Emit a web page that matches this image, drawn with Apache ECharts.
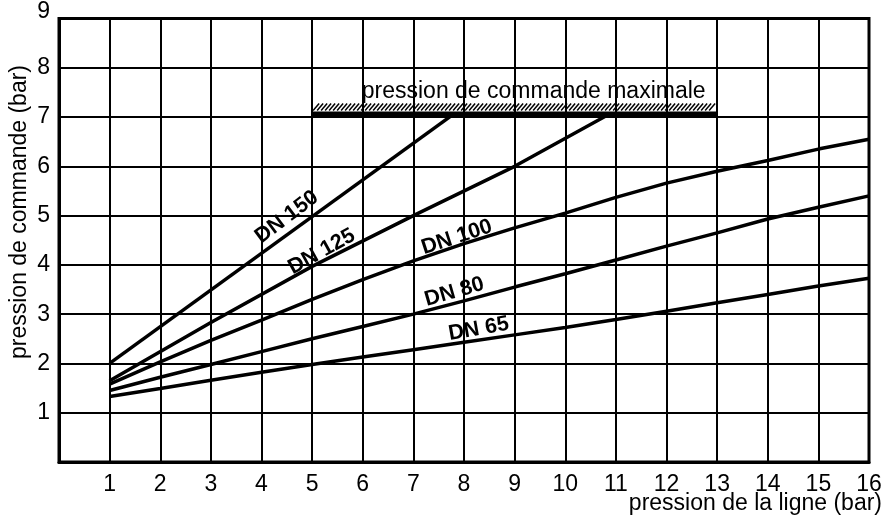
<!DOCTYPE html>
<html><head><meta charset="utf-8">
<script src="https://cdn.jsdelivr.net/npm/echarts@6/dist/echarts.min.js"></script>
<style>html,body{margin:0;padding:0;background:#fff}#c{width:893px;height:519px}</style>
</head><body><div id="c"></div>
<script>
// ---- data ----
const xFull = [1,2,3,4,5,6,7,8,9,10,11,12,13,14,15,16];
const dn150X = [1, 7.78];
const dn150 = [2.0, 7.05];
const dn125X = [1, 3, 5, 7, 9, 10.82];
const dn125 = [1.65, 2.83, 3.97, 5.0, 6.0, 7.03];
const dn100 = [1.58,2.03,2.47,2.88,3.3,3.7,4.08,4.43,4.75,5.05,5.37,5.66,5.9,6.12,6.35,6.55];
const dn80  = [1.45,1.72,1.98,2.24,2.5,2.75,3.0,3.27,3.55,3.82,4.1,4.38,4.65,4.93,5.17,5.40];
const dn65  = [1.33,1.49,1.66,1.82,1.98,2.13,2.28,2.43,2.58,2.73,2.89,3.06,3.23,3.4,3.57,3.73];
const maxCmd = { from: 5, to: 13, value: 7.05, text: 'pression de commande maximale' };
const seriesNames = ['DN 150','DN 125','DN 100','DN 80','DN 65'];
const xName = 'pression de la ligne (bar)';
const yName = 'pression de commande (bar)';

const zip = (xs, ys) => xs.map((x, i) => [x, ys[i]]);
const FONT = "'Liberation Sans', Arial, sans-serif";

const lineSeries = (name, data, coord, rot) => ({
  name, type: 'line', data, symbol: 'none', silent: true,
  lineStyle: { color: '#000', width: 3.5 },
  markPoint: {
    symbol: 'circle', symbolSize: 0, silent: true,
    label: { show: true, position: 'inside', formatter: name, rotate: rot,
      fontWeight: 'bold', fontSize: 21.5, color: '#000', fontFamily: FONT },
    data: [{ coord }]
  }
});

const chart = echarts.init(document.getElementById('c'));
chart.setOption({
  animation: false,
  backgroundColor: '#fff',
  textStyle: { fontFamily: FONT },
  grid: { left: 59, right: 24, top: 18, bottom: 57, show: true, borderColor: '#000', borderWidth: 3 },
  xAxis: {
    type: 'value', min: 0, max: 16, interval: 1,
    axisLine: { lineStyle: { color: '#000', width: 3 } },
    axisTick: { show: false },
    splitLine: { show: true, lineStyle: { color: '#000', width: 2 } },
    axisLabel: { color: '#000', fontSize: 23, margin: 11, fontFamily: FONT,
      formatter: v => v === 0 ? '' : String(v) }
  },
  yAxis: {
    type: 'value', min: 0, max: 9, interval: 1,
    axisLine: { lineStyle: { color: '#000', width: 3 } },
    axisTick: { show: false },
    splitLine: { show: true, lineStyle: { color: '#000', width: 2 } },
    axisLabel: { color: '#000', fontSize: 23, margin: 9, fontFamily: FONT,
      formatter: v => v === 0 ? '' : (v === 9 ? '{top|9}' : String(v)),
      rich: { top: { fontSize: 23, fontFamily: FONT, color: '#000', padding: [0, 0, 14, 0] } } }
  },
  graphic: [
    { type: 'text', x: 20, y: 212, rotation: Math.PI / 2,
      style: { text: yName, font: '23px ' + FONT, fill: '#000', align: 'center', verticalAlign: 'middle' } },
    { type: 'text', x: 882, y: 504,
      style: { text: xName, font: '23px ' + FONT, fill: '#000', align: 'right', verticalAlign: 'middle' } }
  ],
  series: [
    lineSeries(seriesNames[0], zip(dn150X, dn150), [4.5, 4.97], 37),
    lineSeries(seriesNames[1], zip(dn125X, dn125), [5.19, 4.27], 29),
    lineSeries(seriesNames[2], zip(xFull, dn100), [7.86, 4.56], 18),
    lineSeries(seriesNames[3], zip(xFull, dn80), [7.81, 3.45], 16),
    lineSeries(seriesNames[4], zip(xFull, dn65), [8.29, 2.70], 10),
    {
      type: 'custom', silent: true, z: 5,
      data: [[maxCmd.from, maxCmd.to, maxCmd.value]],
      renderItem: (params, api) => {
        const p1 = api.coord([api.value(0), api.value(2)]);
        const p2 = api.coord([api.value(1), api.value(2)]);
        const y = p1[1];
        const children = [
          { type: 'rect', shape: { x: p1[0], y: y - 3, width: p2[0] - p1[0], height: 6 }, style: { fill: '#000' } }
        ];
        for (let x = p1[0] + 1; x + 6 <= p2[0]; x += 4) {
          children.push({ type: 'line', shape: { x1: x, y1: y - 4, x2: x + 6, y2: y - 11 },
            style: { stroke: '#000', lineWidth: 1.5 } });
        }
        const pt = api.coord([6.0, api.value(2)]);
        children.push({ type: 'text', x: pt[0] - 1, y: y - 23,
          style: { text: maxCmd.text, font: '23px ' + FONT, fill: '#000', align: 'left', verticalAlign: 'middle' } });
        return { type: 'group', children };
      }
    }
  ]
});
</script>
</body></html>
